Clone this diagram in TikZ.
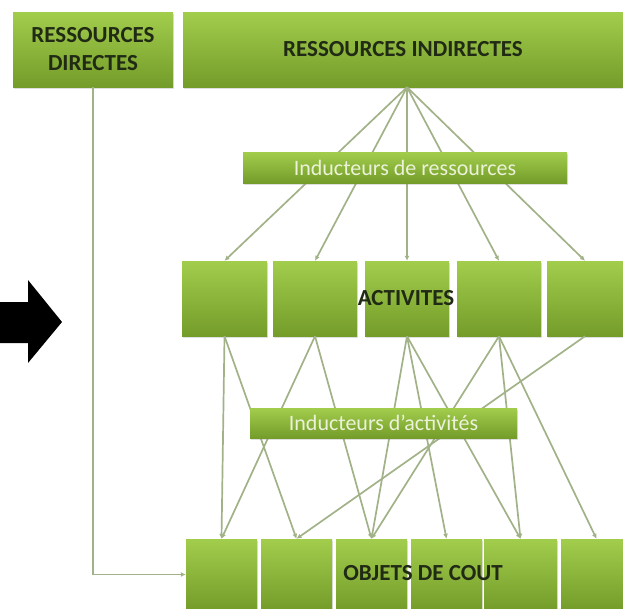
\documentclass[tikz,border=0pt]{standalone}
\usepackage{fontspec}
\setmainfont{Carlito}
\usepackage{xcolor}
\usetikzlibrary{arrows.meta}
\usetikzlibrary{shadows}
\definecolor{boxtop}{RGB}{162,205,76}
\definecolor{boxbot}{RGB}{116,156,42}
\definecolor{linkgray}{RGB}{162,178,136}
\definecolor{labeldark}{RGB}{32,42,20}
\definecolor{labellight}{RGB}{236,242,218}

\begin{document}
\begin{tikzpicture}[x=1pt, y=-1pt,
  box/.style={top color=boxtop, bottom color=boxbot, inner sep=0pt,
    drop shadow={shadow xshift=0.5pt, shadow yshift=-1.5pt, opacity=0.25}},
  title/.style={font=\bfseries\fontsize{23}{28}\selectfont, text=labeldark, align=center},
  driver/.style={box, font=\fontsize{22}{24}\selectfont, text=labellight},
  link/.style={draw=linkgray, line width=1.7pt, -{Latex[length=5pt,width=5pt]}}]
\useasboundingbox (0,0) rectangle (623,608);
%
\fill[black] (0,302) -- (28,302) -- (28,280) -- (62,322) -- (28,363) -- (28,343) -- (0,343) -- cycle;
%
\node[box, title, minimum width=160pt, minimum height=75pt] (dir) at (93,49.5) {RESSOURCES\\DIRECTES};
\node[box, title, minimum width=440pt, minimum height=75pt] (indir) at (403,49.5) {RESSOURCES INDIRECTES};
\coordinate (hub) at ([xshift=4pt]indir.south);
%
\node[box, minimum width=85pt, minimum height=75pt] (act1) at (224.5,298.5) {};
\node[box, minimum width=84pt, minimum height=75pt] (act2) at (315,298.5) {};
\node[box, minimum width=84pt, minimum height=75pt] (act3) at (407,298.5) {};
\node[box, minimum width=84pt, minimum height=75pt] (act4) at (499,298.5) {};
\node[box, minimum width=76pt, minimum height=75pt] (act5) at (585,298.5) {};
\node[title] (actlbl) at (406,298.5) {ACTIVITES};
%
\node[box, minimum width=71pt, minimum height=71pt] (obj1) at (221.5,574.5) {};
\node[box, minimum width=71pt, minimum height=71pt] (obj2) at (296.5,574.5) {};
\node[box, minimum width=71pt, minimum height=71pt] (obj3) at (371.5,574.5) {};
\node[box, minimum width=71pt, minimum height=71pt] (obj4) at (446.5,574.5) {};
\node[box, minimum width=73pt, minimum height=71pt] (obj5) at (520.5,574.5) {};
\node[box, minimum width=71pt, minimum height=71pt] (obj6) at (596.5,574.5) {};
\node[title] (objlbl) at (423,573) {OBJETS DE COUT};
%
\draw[link] (dir.south) |- (obj1.west);
\foreach \a in {1,...,5}
  \draw[link] (hub) -- (act\a.north);
\foreach \a/\o in {1/1,1/2,2/1,2/3,3/3,3/4,3/5,4/3,4/5,4/6,5/2}
  \draw[link] (act\a.south) -- (obj\o.north);
%
\node[driver, minimum width=324pt, minimum height=31pt] (indres) at (405,167.5) {Inducteurs de ressources};
\node[driver, minimum width=267pt, minimum height=30pt] (indact) at (383.5,423) {Inducteurs d'activités};
\end{tikzpicture}
\end{document}
